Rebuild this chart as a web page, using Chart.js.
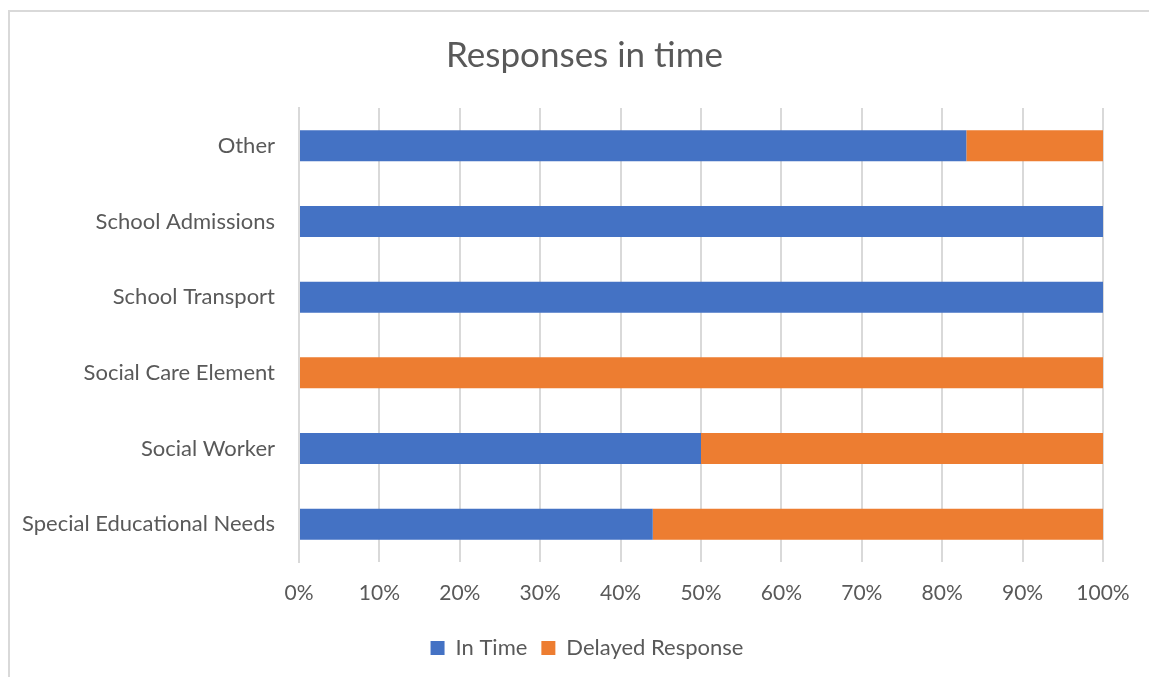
<!DOCTYPE html>
<html>
<head>
<meta charset="utf-8">
<script src="https://cdn.jsdelivr.net/npm/chart.js@4"></script>
<style>
body { margin: 0; background: #fff; }
#frame { position: absolute; left: 8px; top: 10px; width: 1200px; height: 700px; border-top: 2px solid #d9d9d9; border-left: 2px solid #d9d9d9; }
#wrap { position: absolute; left: 0; top: 0; width: 1149px; height: 677px; }
</style>
</head>
<body>
<div id="frame"></div>
<div id="wrap"><canvas id="chart1"></canvas></div>
<script>
// データ
var categories = ["Other", "School Admissions", "School Transport", "Social Care Element", "Social Worker", "Special Educational Needs"];
var inTime = [83, 100, 100, 0, 50, 44];
var delayed = [17, 0, 0, 100, 50, 56];
var xTicks = [0, 10, 20, 30, 40, 50, 60, 70, 80, 90, 100];

var grey = '#595959';
var gridCol = '#d9d9d9';

// タイトルと凡例を枠の中央に寄せる
var centerBlocks = {
    id: 'centerBlocks',
    afterLayout: function(chart) {
        var t = chart.titleBlock;
        t.left = 20;
        t.right = 1149;
        t.width = 1129;
        var l = chart.legend;
        l.left = 25;
        l.right = 1149;
        l.width = 1124;
    }
};

var ctx = document.getElementById("chart1").getContext('2d');
var chart = new Chart(ctx, {
    type: 'bar',
    data: {
        labels: categories,
        datasets: [{
            label: "In Time",
            data: inTime,
            backgroundColor: '#4472C4',
            barPercentage: 0.41,
            categoryPercentage: 1
        }, {
            label: "Delayed Response",
            data: delayed,
            backgroundColor: '#ED7D31',
            barPercentage: 0.41,
            categoryPercentage: 1
        }]
    },
    options: {
        indexAxis: 'y',
        responsive: true,
        maintainAspectRatio: false,
        animation: false,
        layout: {
            padding: { left: 0, right: 46, top: 0, bottom: 8 }
        },
        plugins: {
            title: {
                display: true,
                text: 'Responses in time',
                color: grey,
                font: { family: 'Lato', size: 35, weight: 'normal' },
                padding: { top: 35, bottom: 31 }
            },
            legend: {
                position: 'bottom',
                labels: {
                    color: grey,
                    font: { family: 'Lato', size: 22 },
                    boxWidth: 14,
                    boxHeight: 14,
                    padding: 14
                }
            },
            tooltip: { enabled: false }
        },
        scales: {
            x: {
                stacked: true,
                min: 0,
                max: 100,
                afterBuildTicks: function(scale) {
                    scale.ticks = xTicks.map(function(v) { return { value: v }; });
                },
                afterFit: function(scale) { scale.height = 61; },
                ticks: {
                    color: grey,
                    font: { family: 'Lato', size: 21 },
                    padding: 19,
                    callback: function(v) { return v + '%'; }
                },
                grid: { color: gridCol, lineWidth: 2, drawTicks: false },
                border: { display: false }
            },
            y: {
                stacked: true,
                afterFit: function(scale) { scale.width = 299; },
                ticks: {
                    color: grey,
                    font: { family: 'Lato', size: 22 },
                    padding: 24
                },
                grid: { display: false, drawTicks: false },
                border: { display: true, color: gridCol, width: 2 }
            }
        }
    },
    plugins: [centerBlocks]
});
</script>
</body>
</html>
